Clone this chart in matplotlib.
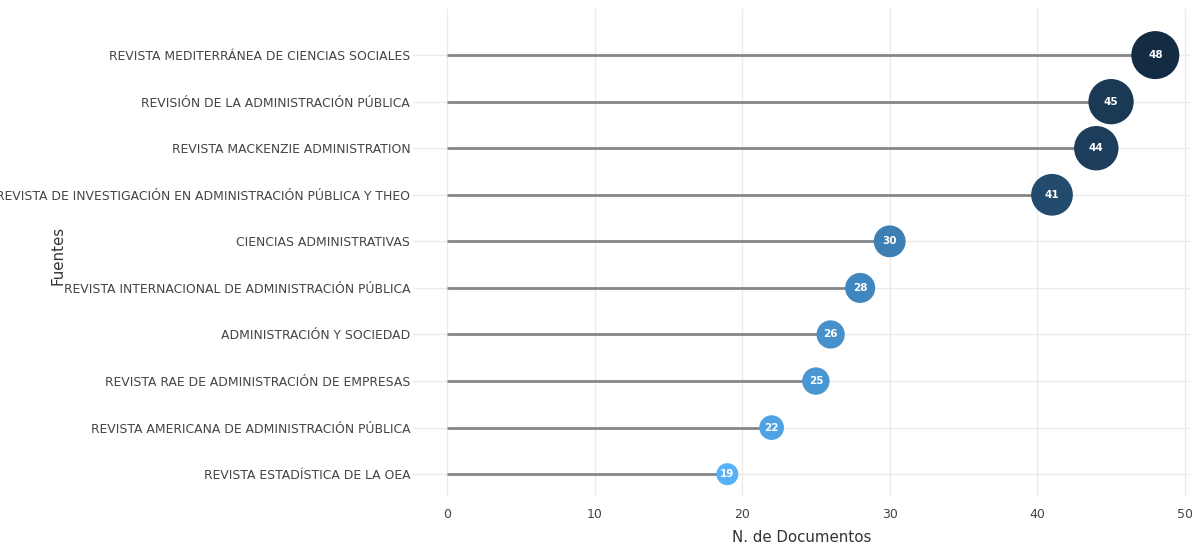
import numpy as np
import matplotlib.pyplot as plt
from matplotlib.colors import LinearSegmentedColormap, Normalize

fuentes = [
    "REVISTA ESTADÍSTICA DE LA OEA",
    "REVISTA AMERICANA DE ADMINISTRACIÓN PÚBLICA",
    "REVISTA RAE DE ADMINISTRACIÓN DE EMPRESAS",
    "ADMINISTRACIÓN Y SOCIEDAD",
    "REVISTA INTERNACIONAL DE ADMINISTRACIÓN PÚBLICA",
    "CIENCIAS ADMINISTRATIVAS",
    "REVISTA DE INVESTIGACIÓN EN ADMINISTRACIÓN PÚBLICA Y THEO",
    "REVISTA MACKENZIE ADMINISTRATION",
    "REVISIÓN DE LA ADMINISTRACIÓN PÚBLICA",
    "REVISTA MEDITERRÁNEA DE CIENCIAS SOCIALES",
]
documentos = [19, 22, 25, 26, 28, 30, 41, 44, 45, 48]
xticks = [0, 10, 20, 30, 40, 50]

W, H = 1192, 544
fig = plt.figure(figsize=(W / 100, H / 100), dpi=100)
ax = fig.add_axes([413 / W, 1 - 497 / H, (1190 - 413) / W, (497 - 9) / H])

cmap = LinearSegmentedColormap.from_list("gg", ["#56B1F7", "#132B43"])
norm = Normalize(min(documentos), max(documentos))
y = np.arange(len(fuentes))
vals = np.array(documentos)

# marker diameter in px grows with value
diam = 22 + (vals - vals.min()) * 26 / (vals.max() - vals.min())
sizes = (diam * 0.72) ** 2

ax.hlines(y, 0, vals, color="#868686", lw=2, zorder=2)
ax.scatter(vals, y, s=sizes, c=cmap(norm(vals)), zorder=3, linewidths=0)
for xv, yv in zip(vals, y):
    ax.text(xv, yv, str(xv), color="white", ha="center", va="center",
            fontsize=7.5, fontweight="bold", zorder=4)

ax.set_xlim(-2.3, 50.35)
ax.set_ylim(-0.49, 9.99)
ax.set_xticks(xticks)
ax.set_yticks(y)
ax.set_yticklabels(fuentes)
ax.grid(True, color="#ebebeb", lw=1)
ax.set_axisbelow(True)
for s in ax.spines.values():
    s.set_visible(False)
# the long label runs past the left edge, as in the original
ax.tick_params(axis="y", length=0, pad=2, labelsize=8.95, labelcolor="#444444")
ax.tick_params(axis="x", length=0, pad=8, labelsize=9, labelcolor="#444444")

fig.text(802 / W, 1 - 537 / H, "N. de Documentos", ha="center", va="center",
         fontsize=10.8, color="#333333")
fig.text(58 / W, 1 - 255 / H, "Fuentes", ha="center", va="center",
         rotation=90, fontsize=10.8, color="#333333")

fig.savefig("out.png", dpi=100, facecolor="white")
